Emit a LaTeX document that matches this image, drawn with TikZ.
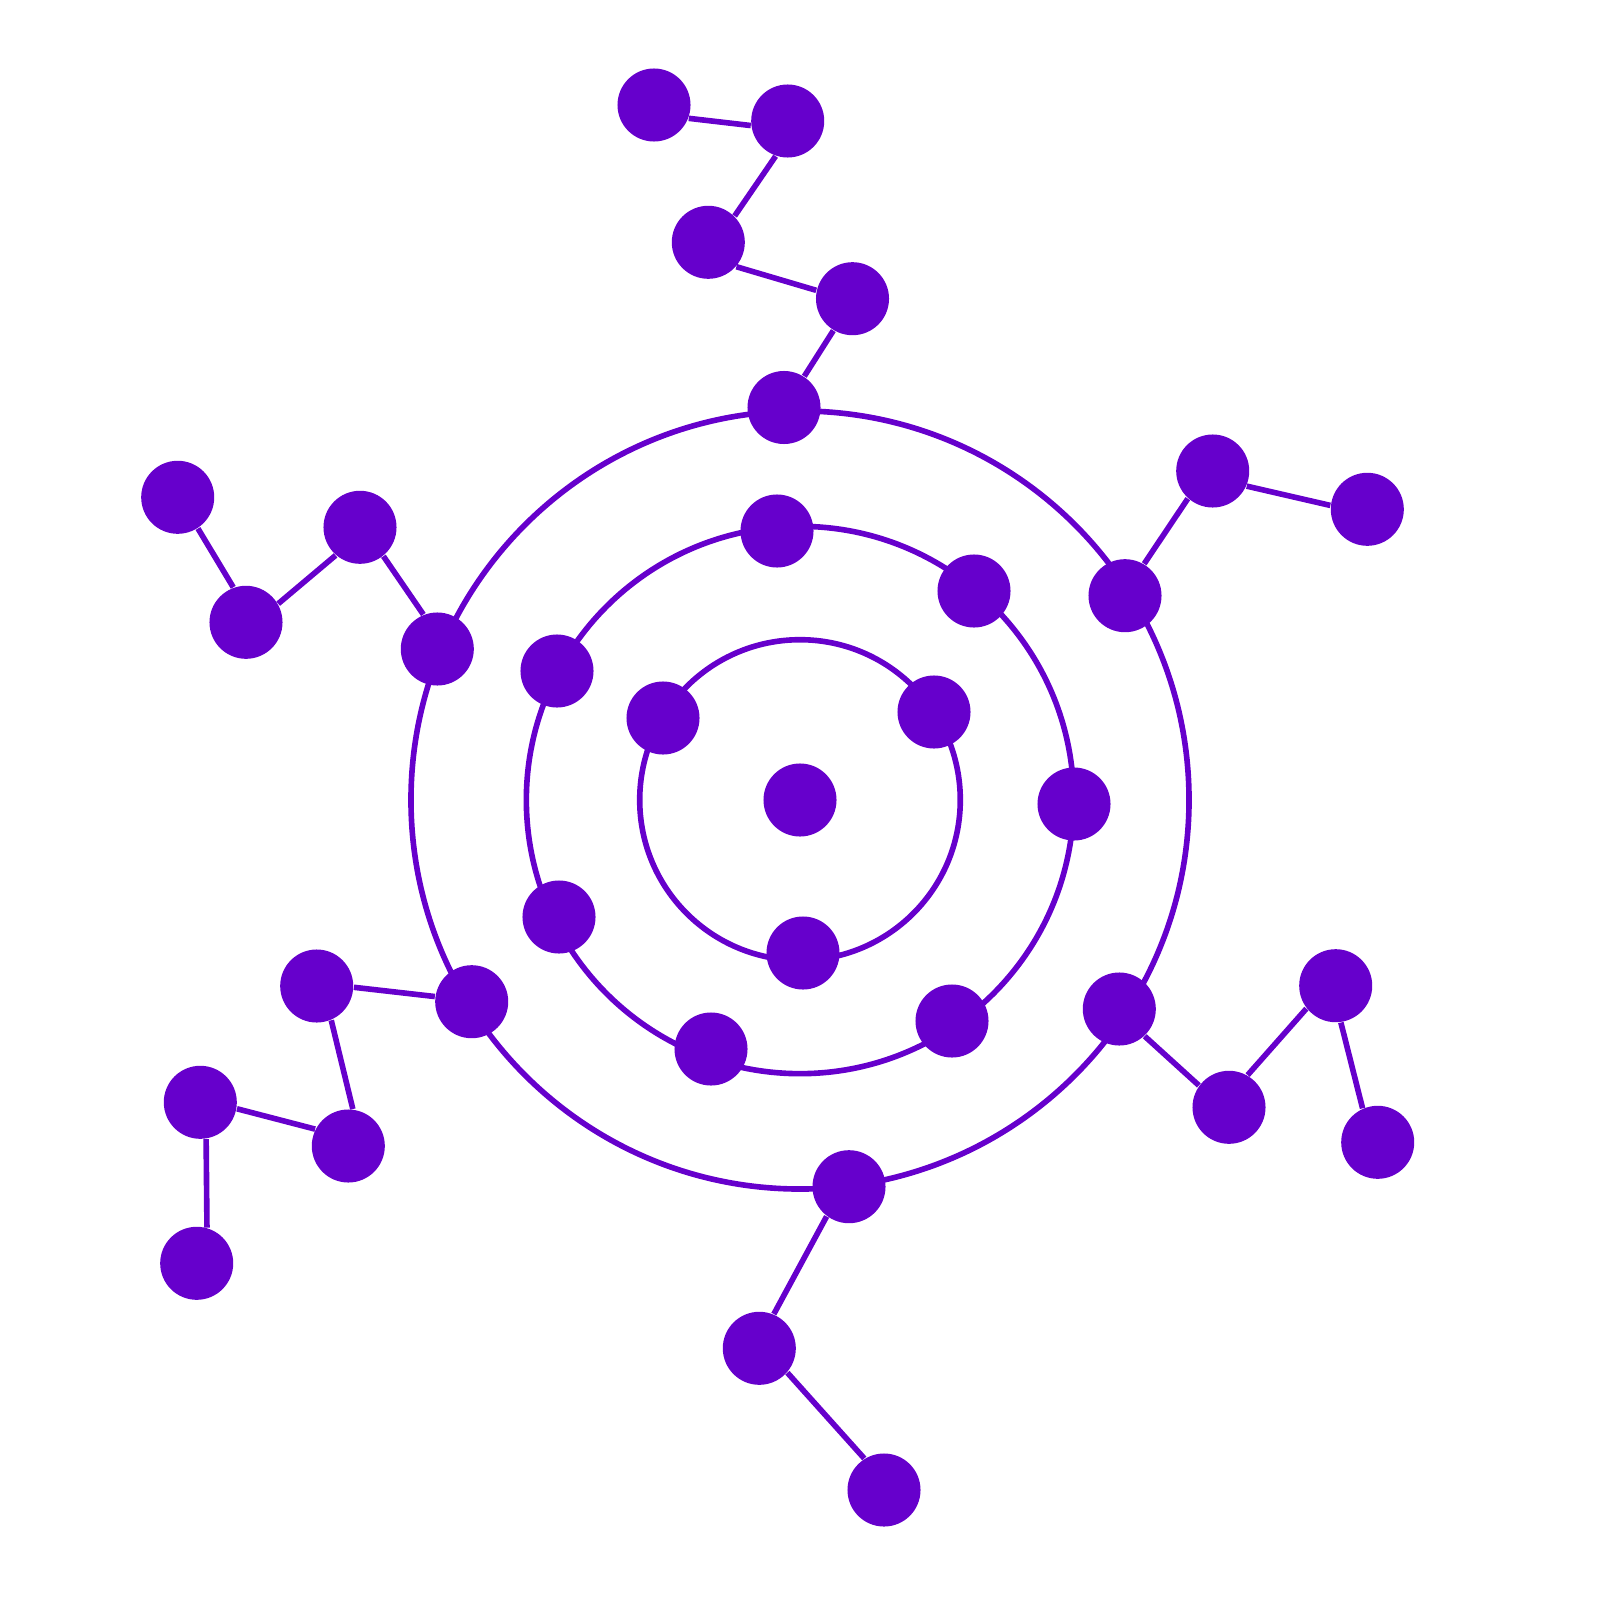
\documentclass[tikz,border=0pt]{standalone}
\usepackage{tikz}

\definecolor{atomviolet}{HTML}{6600CC}

\begin{document}
\begin{tikzpicture}[
    x=0.01cm, y=-0.01cm,
    atom/.style={circle, fill=atomviolet, inner sep=0pt, minimum size=0.73cm},
    ring/.style={draw=atomviolet, line width=1.6pt},
    bond/.style={draw=atomviolet, line width=1.6pt},
]
    \useasboundingbox (0,0) rectangle (1600,1600);

    % Core
    \coordinate (c0) at (800,800);

    % Rings
    \draw[ring] (c0) circle (1.602cm);
    \draw[ring] (c0) circle (2.735cm);
    \draw[ring] (c0) circle (3.888cm);

    % Inner ring
    \node[atom] (core) at (800,800) {};
    \node[atom] (in1) at (663,718) {};
    \node[atom] (in2) at (934,712) {};
    \node[atom] (in3) at (803,953) {};

    % Middle ring
    \node[atom] (mid1) at (777,531) {};
    \node[atom] (mid2) at (974,591) {};
    \node[atom] (mid3) at (1074,804) {};
    \node[atom] (mid4) at (952,1021) {};
    \node[atom] (mid5) at (711,1049) {};
    \node[atom] (mid6) at (559,917) {};
    \node[atom] (mid7) at (557,671) {};

    % Outer ring
    \node[atom] (out1) at (784,407.5) {};
    \node[atom] (out2) at (1125,595.7) {};
    \node[atom] (out3) at (1119.3,1009) {};
    \node[atom] (out4) at (849,1186.7) {};
    \node[atom] (out5) at (471.7,1001.7) {};
    \node[atom] (out6) at (437.3,649) {};

    % Chain top
    \node[atom] (t1) at (852.5,298.7) {};
    \node[atom] (t2) at (708.3,242.3) {};
    \node[atom] (t3) at (787.7,121) {};
    \node[atom] (t4) at (654,105) {};

    % Chain right
    \node[atom] (r1) at (1212.7,471) {};
    \node[atom] (r2) at (1367.3,509.3) {};

    % Chain lower right
    \node[atom] (lr1) at (1229,1107.3) {};
    \node[atom] (lr2) at (1335.7,985.7) {};
    \node[atom] (lr3) at (1377.7,1142.3) {};

    % Chain bottom
    \node[atom] (b1) at (759.3,1348.3) {};
    \node[atom] (b2) at (884,1490) {};

    % Chain lower left
    \node[atom] (ll1) at (316.7,986) {};
    \node[atom] (ll2) at (348.3,1146) {};
    \node[atom] (ll3) at (200.3,1102.3) {};
    \node[atom] (ll4) at (196.7,1263.3) {};

    % Chain upper left
    \node[atom] (ul1) at (360,527.3) {};
    \node[atom] (ul2) at (246,622.3) {};
    \node[atom] (ul3) at (177.7,497.3) {};

    % Bonds (border anchors, bonds sit a little off centre)
    \draw[bond] (out1.57.6) -- (t1.239.4);
    \draw[bond] (t1.167.3) -- (t2.319.3);
    \draw[bond] (t2.45.7) -- (t3.251.5);
    \draw[bond] (t3.187.9) -- (t4.339.7);

    \draw[bond] (out2.59.2) -- (r1.228.2);
    \draw[bond] (r1.336.6) -- (r2.174.7);

    \draw[bond] (out3.313.6) -- (lr1.144.6);
    \draw[bond] (lr1.60.5) -- (lr2.218.2);
    \draw[bond] (lr2.278.4) -- (lr3.114);

    \draw[bond] (out4.233.5) -- (b1.67.2);
    \draw[bond] (b1.319.9) -- (b2.122.3);

    \draw[bond] (out5.172.2) -- (ll1.358.9);
    \draw[bond] (ll1.293.2) -- (ll2.83.5);
    \draw[bond] (ll2.153.9) -- (ll3.350.4);
    \draw[bond] (ll3.279.6) -- (ll4.74.7);

    \draw[bond] (out6.112.4) -- (ul1.309.9);
    \draw[bond] (ul1.229.9) -- (ul2.30.8);
    \draw[bond] (ul2.110.5) -- (ul3.303.6);
\end{tikzpicture}
\end{document}
